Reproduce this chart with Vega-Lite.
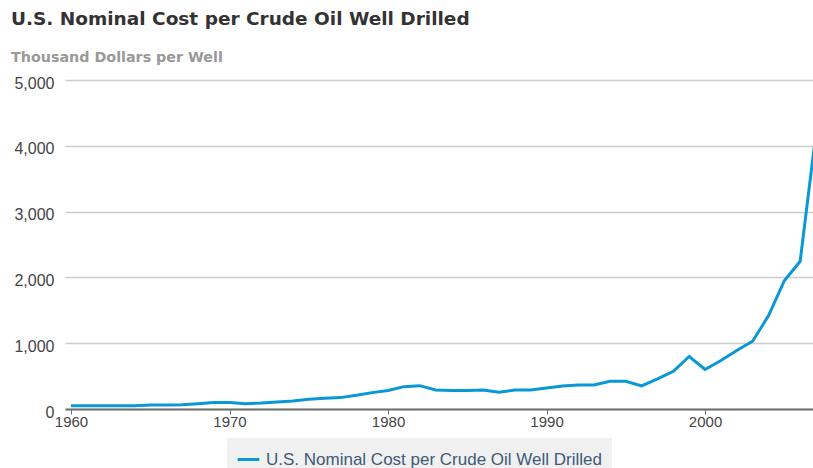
{
  "$schema": "https://vega.github.io/schema/vega-lite/v6.json",
  "width": 748,
  "height": 329,
  "autosize": {"type": "none"},
  "padding": {"left": 65, "top": 80, "right": 0, "bottom": 59},
  "background": "white",
  "title": {
    "text": "U.S. Nominal Cost per Crude Oil Well Drilled",
    "subtitle": "Thousand Dollars per Well",
    "anchor": "start",
    "frame": "bounds",
    "font": "DejaVu Sans",
    "fontSize": 18.5,
    "fontWeight": "bold",
    "color": "#333333",
    "subtitleFont": "DejaVu Sans",
    "subtitleFontSize": 14.3,
    "subtitleFontWeight": "bold",
    "subtitleColor": "#999999",
    "subtitlePadding": 22,
    "offset": 10,
    "dx": -3
  },
  "config": {"view": {"stroke": null}},
  "data": {
    "values": [
      {"year": 1960, "cost": 50, "series": "U.S. Nominal Cost per Crude Oil Well Drilled"},
      {"year": 1961, "cost": 50, "series": "U.S. Nominal Cost per Crude Oil Well Drilled"},
      {"year": 1962, "cost": 51, "series": "U.S. Nominal Cost per Crude Oil Well Drilled"},
      {"year": 1963, "cost": 50, "series": "U.S. Nominal Cost per Crude Oil Well Drilled"},
      {"year": 1964, "cost": 51, "series": "U.S. Nominal Cost per Crude Oil Well Drilled"},
      {"year": 1965, "cost": 61, "series": "U.S. Nominal Cost per Crude Oil Well Drilled"},
      {"year": 1966, "cost": 61, "series": "U.S. Nominal Cost per Crude Oil Well Drilled"},
      {"year": 1967, "cost": 66, "series": "U.S. Nominal Cost per Crude Oil Well Drilled"},
      {"year": 1968, "cost": 81, "series": "U.S. Nominal Cost per Crude Oil Well Drilled"},
      {"year": 1969, "cost": 97, "series": "U.S. Nominal Cost per Crude Oil Well Drilled"},
      {"year": 1970, "cost": 97, "series": "U.S. Nominal Cost per Crude Oil Well Drilled"},
      {"year": 1971, "cost": 81, "series": "U.S. Nominal Cost per Crude Oil Well Drilled"},
      {"year": 1972, "cost": 91, "series": "U.S. Nominal Cost per Crude Oil Well Drilled"},
      {"year": 1973, "cost": 107, "series": "U.S. Nominal Cost per Crude Oil Well Drilled"},
      {"year": 1974, "cost": 122, "series": "U.S. Nominal Cost per Crude Oil Well Drilled"},
      {"year": 1975, "cost": 147, "series": "U.S. Nominal Cost per Crude Oil Well Drilled"},
      {"year": 1976, "cost": 163, "series": "U.S. Nominal Cost per Crude Oil Well Drilled"},
      {"year": 1977, "cost": 173, "series": "U.S. Nominal Cost per Crude Oil Well Drilled"},
      {"year": 1978, "cost": 208, "series": "U.S. Nominal Cost per Crude Oil Well Drilled"},
      {"year": 1979, "cost": 249, "series": "U.S. Nominal Cost per Crude Oil Well Drilled"},
      {"year": 1980, "cost": 280, "series": "U.S. Nominal Cost per Crude Oil Well Drilled"},
      {"year": 1981, "cost": 340, "series": "U.S. Nominal Cost per Crude Oil Well Drilled"},
      {"year": 1982, "cost": 355, "series": "U.S. Nominal Cost per Crude Oil Well Drilled"},
      {"year": 1983, "cost": 290, "series": "U.S. Nominal Cost per Crude Oil Well Drilled"},
      {"year": 1984, "cost": 280, "series": "U.S. Nominal Cost per Crude Oil Well Drilled"},
      {"year": 1985, "cost": 280, "series": "U.S. Nominal Cost per Crude Oil Well Drilled"},
      {"year": 1986, "cost": 290, "series": "U.S. Nominal Cost per Crude Oil Well Drilled"},
      {"year": 1987, "cost": 254, "series": "U.S. Nominal Cost per Crude Oil Well Drilled"},
      {"year": 1988, "cost": 290, "series": "U.S. Nominal Cost per Crude Oil Well Drilled"},
      {"year": 1989, "cost": 290, "series": "U.S. Nominal Cost per Crude Oil Well Drilled"},
      {"year": 1990, "cost": 320, "series": "U.S. Nominal Cost per Crude Oil Well Drilled"},
      {"year": 1991, "cost": 350, "series": "U.S. Nominal Cost per Crude Oil Well Drilled"},
      {"year": 1992, "cost": 365, "series": "U.S. Nominal Cost per Crude Oil Well Drilled"},
      {"year": 1993, "cost": 365, "series": "U.S. Nominal Cost per Crude Oil Well Drilled"},
      {"year": 1994, "cost": 420, "series": "U.S. Nominal Cost per Crude Oil Well Drilled"},
      {"year": 1995, "cost": 420, "series": "U.S. Nominal Cost per Crude Oil Well Drilled"},
      {"year": 1996, "cost": 350, "series": "U.S. Nominal Cost per Crude Oil Well Drilled"},
      {"year": 1997, "cost": 457, "series": "U.S. Nominal Cost per Crude Oil Well Drilled"},
      {"year": 1998, "cost": 574, "series": "U.S. Nominal Cost per Crude Oil Well Drilled"},
      {"year": 1999, "cost": 798, "series": "U.S. Nominal Cost per Crude Oil Well Drilled"},
      {"year": 2000, "cost": 600, "series": "U.S. Nominal Cost per Crude Oil Well Drilled"},
      {"year": 2001, "cost": 737, "series": "U.S. Nominal Cost per Crude Oil Well Drilled"},
      {"year": 2002, "cost": 890, "series": "U.S. Nominal Cost per Crude Oil Well Drilled"},
      {"year": 2003, "cost": 1030, "series": "U.S. Nominal Cost per Crude Oil Well Drilled"},
      {"year": 2004, "cost": 1416, "series": "U.S. Nominal Cost per Crude Oil Well Drilled"},
      {"year": 2005, "cost": 1950, "series": "U.S. Nominal Cost per Crude Oil Well Drilled"},
      {"year": 2006, "cost": 2245, "series": "U.S. Nominal Cost per Crude Oil Well Drilled"},
      {"year": 2007, "cost": 4200, "series": "U.S. Nominal Cost per Crude Oil Well Drilled"}
    ]
  },
  "mark": {"type": "line", "strokeWidth": 3, "clip": true},
  "encoding": {
    "x": {
      "field": "year",
      "type": "quantitative",
      "scale": {"domain": [1959.62, 2006.81], "nice": false, "zero": false},
      "axis": {
        "title": null,
        "values": [1960, 1970, 1980, 1990, 2000],
        "format": "d",
        "grid": false,
        "domainColor": "#6e6e6e",
        "domainWidth": 2,
        "tickColor": "#6e6e6e",
        "tickSize": 5,
        "tickWidth": 1,
        "labelFont": "Liberation Sans",
        "labelFontSize": 15,
        "labelColor": "#444444",
        "labelPadding": 0
      }
    },
    "y": {
      "field": "cost",
      "type": "quantitative",
      "scale": {"domain": [0, 5000], "nice": false},
      "axis": {
        "title": null,
        "values": [0, 1000, 2000, 3000, 4000, 5000],
        "format": ",.0f",
        "domain": false,
        "ticks": false,
        "grid": true,
        "gridColor": "#cccccc",
        "gridWidth": 1.5,
        "labelFont": "Liberation Sans",
        "labelFontSize": 16,
        "labelColor": "#444444",
        "labelPadding": 11,
        "labelOffset": 3
      }
    },
    "color": {
      "field": "series",
      "type": "nominal",
      "scale": {"range": ["#0a97d6"]},
      "legend": {
        "title": null,
        "orient": "none",
        "legendX": 162,
        "legendY": 358,
        "fillColor": "#f0f0f0",
        "padding": 9,
        "symbolType": "stroke",
        "symbolSize": 470,
        "symbolStrokeWidth": 3,
        "labelFont": "Liberation Sans",
        "labelFontSize": 17,
        "labelColor": "#3d5a78",
        "labelOffset": 5,
        "labelLimit": 500
      }
    }
  }
}
